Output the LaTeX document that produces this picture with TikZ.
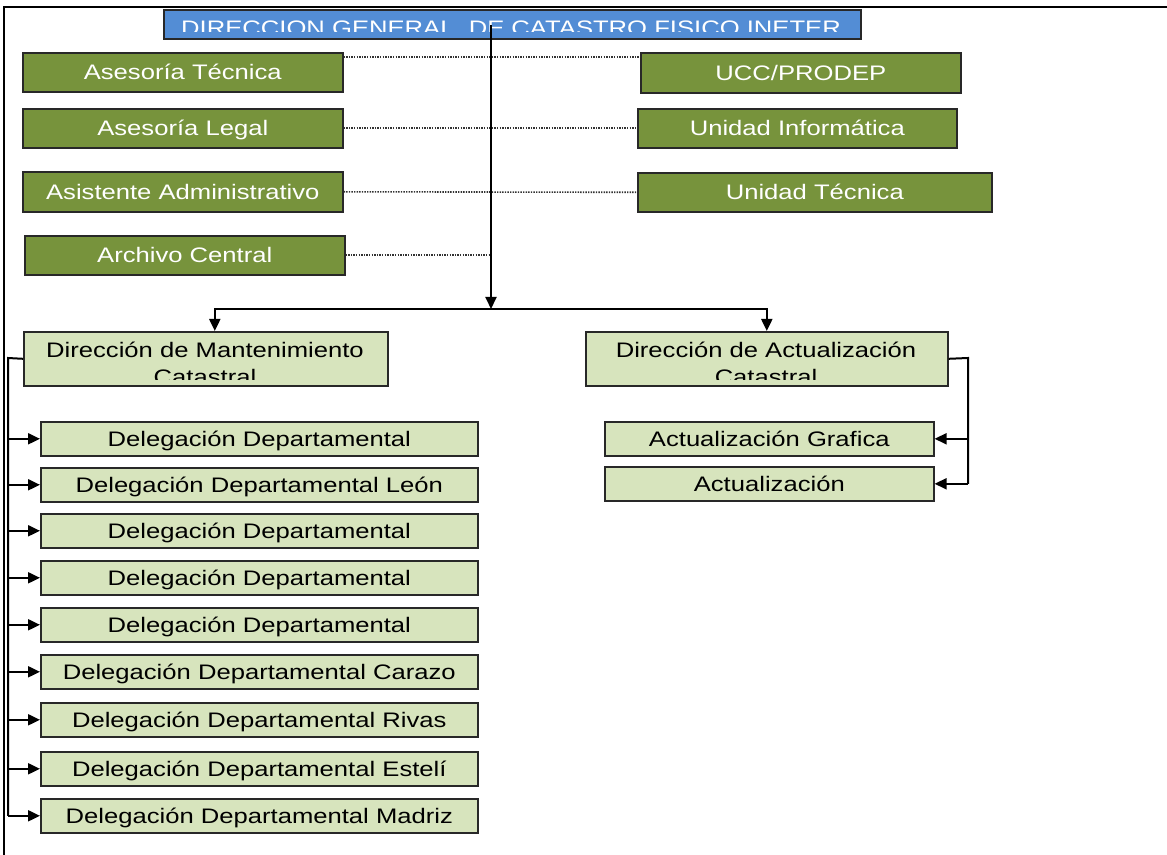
\documentclass[tikz,border=0pt]{standalone}
\usepackage{fontspec}
\setmainfont{Liberation Sans}
\newfontfamily\boxfont[FakeStretch=1.22]{Liberation Sans}
\usetikzlibrary{arrows.meta}
\definecolor{titleblue}{RGB}{83,141,213}
\definecolor{unitgreen}{RGB}{119,147,60}
\definecolor{palegreen}{RGB}{215,228,189}
\definecolor{edgegray}{RGB}{40,40,40}
\begin{document}
\begin{tikzpicture}[x=0.5pt,y=-0.5pt,
  box/.style={draw=edgegray, line width=0.8pt, anchor=north west, inner sep=0pt,
    font=\boxfont\fontsize{10.5pt}{13.5pt}\selectfont, text height=7.5pt, text depth=0pt},
  unitbox/.style={box, fill=unitgreen, text=white},
  subbox/.style={box, fill=palegreen, text=black},
  headbox/.style={box, fill=titleblue},
  boxlabel/.style={anchor=base, inner sep=0pt, font=\boxfont\fontsize{10.5pt}{13.5pt}\selectfont},
  link/.style={line width=1pt, draw=black},
  arr/.style={link, -{Triangle[length=6pt,width=5.5pt]}},
  staff/.style={draw=gray!40!black, line width=0.8pt, dash pattern=on 0.7pt off 0.6pt}
]
\useasboundingbox (0,0) rectangle (1167,855);

% page frame
\draw[line width=1.1pt] (4,855) -- (4,7) -- (1167,7);

% head office
\node[headbox, minimum width=348.5pt, minimum height=14.5pt] (title) at (163,9) {};
\begin{scope}
  \clip (163,9) rectangle (860,32);
  \node[boxlabel, text=white] (titletext) at (511,35.5) {DIRECCION GENERAL\ \ DE CATASTRO FISICO INETER};
\end{scope}

% staff units, left
\node[unitbox, minimum width=160pt, minimum height=19.5pt] (ates) at (22,52)  {Asesoría Técnica};
\node[unitbox, minimum width=160pt, minimum height=19.5pt] (aleg) at (22,108) {Asesoría Legal};
\node[unitbox, minimum width=160pt, minimum height=20pt]   (asis) at (22,171) {Asistente Administrativo};
\node[unitbox, minimum width=160pt, minimum height=19.5pt] (arch) at (24,235) {Archivo Central};
% staff units, right
\node[unitbox, minimum width=160pt, minimum height=20pt]   (ucc)  at (640,52)  {UCC/PRODEP};
\node[unitbox, minimum width=159.5pt, minimum height=19.5pt] (uinf) at (637,108) {Unidad Informática};
\node[unitbox, minimum width=177pt, minimum height=19.5pt] (utec) at (637,172) {Unidad Técnica};

% line directorates
\node[subbox, minimum width=182pt, minimum height=27pt] (mant) at (23,331) {};
\node[subbox, minimum width=181pt, minimum height=27pt] (act)  at (585,331) {};
\begin{scope}
  \clip (23,331) rectangle (387,379.5);
  \node[boxlabel] (manta) at (205,358) {Dirección de Mantenimiento};
  \node[boxlabel] (mantb) at (205,385) {Catastral};
\end{scope}
\begin{scope}
  \clip (585,331) rectangle (947,379.5);
  \node[boxlabel] (acta) at (766,358) {Dirección de Actualización};
  \node[boxlabel] (actb) at (766,385) {Catastral};
\end{scope}

% departmental delegations
\foreach \n/\y/\t in {1/421/{Delegación Departamental},
                      2/467/{Delegación Departamental León},
                      3/513/{Delegación Departamental},
                      4/560/{Delegación Departamental},
                      5/607/{Delegación Departamental},
                      6/654/{Delegación Departamental Carazo},
                      7/702/{Delegación Departamental Rivas},
                      8/751/{Delegación Departamental Estelí},
                      9/798/{Delegación Departamental Madriz}}
  \node[subbox, minimum width=218.5pt, minimum height=17pt] (d\n) at (40,\y) {\t};

% update units
\node[subbox, minimum width=164.5pt, minimum height=17pt] (ag) at (604,421) {Actualización Grafica};
\node[subbox, minimum width=164.5pt, minimum height=17pt] (au) at (604,466) {Actualización};

% staff links (dotted)
\coordinate (ttop) at (491,25);
\coordinate (bar)  at (491,309);
\draw[staff] ([yshift=-2.5pt]ates.north east) -- ([yshift=-2.5pt]ucc.north west);
\draw[staff] (aleg.east) -- (uinf.west);
\draw[staff] (asis.east) -- (utec.west);
\draw[staff] (arch.east) -- (arch.east -| bar);

% main hierarchy
\draw[arr] (ttop) -- (bar);
\draw[arr] (bar) -| ([xshift=4.5pt]mant.north);
\draw[arr] (bar) -| (act.north);

% maintenance branch
\coordinate (mk) at (8,358);
\draw[link] (mant.west) -- (mk) -- (d9.west -| mk);
\foreach \n in {1,...,9}
  \draw[arr] (d\n.west -| mk) -- (d\n.west);

% update branch
\coordinate (ak) at (968,358);
\draw[link] (act.east) -- (ak) -- (au.east -| ak);
\draw[arr] (ag.east -| ak) -- (ag.east);
\draw[arr] (au.east -| ak) -- (au.east);
\end{tikzpicture}
\end{document}
